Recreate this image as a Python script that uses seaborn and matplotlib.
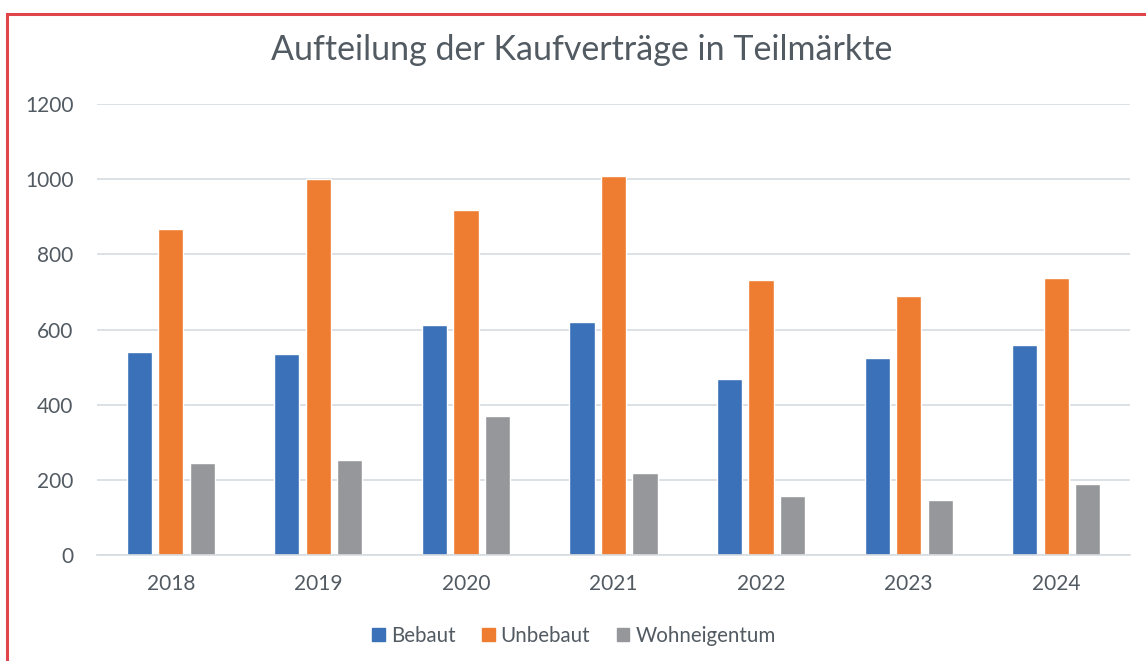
import pandas as pd
import seaborn as sns
import matplotlib.pyplot as plt
from matplotlib.patches import Rectangle

# Werte
jahre = ["2018", "2019", "2020", "2021", "2022", "2023", "2024"]
bebaut = [540, 535, 612, 620, 467, 525, 560]
unbebaut = [867, 1000, 918, 1008, 731, 689, 738]
wohneigentum = [245, 252, 369, 218, 156, 147, 189]

teilmaerkte = ["Bebaut", "Unbebaut", "Wohneigentum"]
farben = ["#3a71b8", "#ee7d31", "#95979a"]

df = pd.DataFrame({"Jahr": jahre, "Bebaut": bebaut, "Unbebaut": unbebaut,
                   "Wohneigentum": wohneigentum})
df_long = df.melt(id_vars="Jahr", var_name="Teilmarkt", value_name="Anzahl")

sns.set_theme(style="white")
plt.rcParams["font.family"] = ["Lato", "DejaVu Sans"]
textfarbe = "#525a62"

fig = plt.figure(figsize=(11.46, 6.61), dpi=100)
ax = fig.add_axes([97 / 1146, 1 - 555 / 661, (1130 - 97) / 1146, (555 - 104) / 661])

sns.barplot(data=df_long, x="Jahr", y="Anzahl", hue="Teilmarkt",
            hue_order=teilmaerkte, palette=farben, width=0.64, gap=0.2,
            saturation=1, ax=ax, legend=False)

ax.set_ylim(0, 1200)
ax.set_xlim(-0.5, 6.5)
ax.set_yticks(range(0, 1201, 200))
ax.yaxis.grid(True, color="#d6dbe1", linewidth=1.2)
ax.set_axisbelow(True)
for s in ["left", "right", "top"]:
    ax.spines[s].set_visible(False)
ax.spines["bottom"].set_color("#d6dbe1")
ax.spines["bottom"].set_linewidth(1.2)
ax.tick_params(axis="both", length=0, labelsize=15, colors=textfarbe)
ax.tick_params(axis="x", pad=14)
ax.tick_params(axis="y", pad=17)
ax.set_xlabel("")
ax.set_ylabel("")

fig.text(0.508, 1 - 50 / 661, "Aufteilung der Kaufverträge in Teilmärkte",
         ha="center", va="center", fontsize=24.5, color=textfarbe)

handles = [Rectangle((0, 0), 1, 1, color=c) for c in farben]
fig.legend(handles, teilmaerkte, loc="center", bbox_to_anchor=(0.501, 1 - 636 / 661),
           ncol=3, frameon=False, fontsize=14.8, labelcolor=textfarbe,
           handlelength=0.6, handleheight=0.6, handletextpad=0.3, columnspacing=1.3)

# roter Rahmen
fig.patches.append(Rectangle((7 / 1146, -0.05), 1.1, 1 - 14 / 661 + 0.05,
                             transform=fig.transFigure, fill=False,
                             edgecolor="#e0454a", linewidth=2.2))

fig.savefig("out.png", dpi=100)
